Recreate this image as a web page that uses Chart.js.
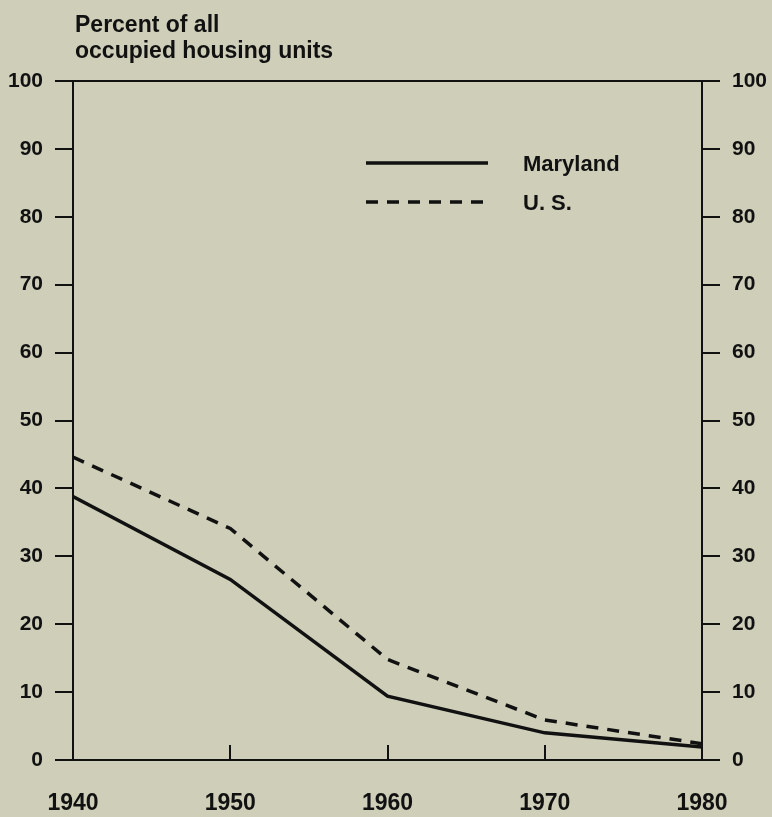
<!DOCTYPE html>
<html>
<head>
<meta charset="utf-8">
<script src="https://cdn.jsdelivr.net/npm/chart.js@4"></script>
<style>
  html, body { margin: 0; padding: 0; background: #cfceb9; }
  #wrap { width: 772px; height: 817px; position: relative; }
</style>
</head>
<body>
<div id="wrap"><canvas id="housingChart"></canvas></div>
<script>
const years = [1940, 1950, 1960, 1970, 1980];
const maryland = [38.8, 26.6, 9.4, 4.0, 1.9];
const unitedStates = [44.6, 34.1, 14.8, 5.9, 2.4];
const yTicks = [0, 10, 20, 30, 40, 50, 60, 70, 80, 90, 100];
const titleLines = ['Percent of all', 'occupied housing units'];
const seriesNames = ['Maryland', 'U. S.'];

const FONT = '"Liberation Sans", Arial, sans-serif';
const INK = '#111';

const canvas = document.getElementById('housingChart');

// title, legend and the small inward ticks on the year axis
const extras = {
  id: 'extras',
  afterDraw(chart) {
    const ctx = chart.ctx;
    const area = chart.chartArea;
    ctx.save();
    ctx.fillStyle = INK;
    ctx.strokeStyle = INK;
    ctx.font = 'bold 23px ' + FONT;
    ctx.textBaseline = 'alphabetic';
    ctx.textAlign = 'left';
    titleLines.forEach((line, i) => ctx.fillText(line, area.left + 2, 32 + i * 26));

    const xs = chart.scales.x;
    ctx.lineWidth = 2;
    years.slice(1, -1).forEach(yr => {
      const px = Math.round(xs.getPixelForValue(yr));
      ctx.beginPath();
      ctx.moveTo(px, area.bottom);
      ctx.lineTo(px, area.bottom - 15);
      ctx.stroke();
    });

    // legend
    chart.data.datasets.forEach((ds, i) => {
      const y = 163 + i * 39;
      ctx.lineWidth = ds.borderWidth;
      ctx.setLineDash(ds.borderDash || []);
      ctx.beginPath();
      ctx.moveTo(area.left + 293, y);
      ctx.lineTo(area.left + 415, y);
      ctx.stroke();
      ctx.setLineDash([]);
      ctx.font = 'bold 22px ' + FONT;
      ctx.textBaseline = 'middle';
      ctx.fillText(seriesNames[i], area.left + 450, y + 2);
    });
    ctx.restore();
  }
};

const yAxis = (pos, width) => ({
  type: 'linear',
  position: pos,
  min: 0,
  max: 100,
  afterBuildTicks: axis => { axis.ticks = yTicks.map(v => ({ value: v })); },
  afterFit: axis => { axis.width = width; },
  grid: { drawOnChartArea: false, tickLength: 18, color: INK, lineWidth: 2 },
  border: { color: INK, width: 2 },
  ticks: { color: INK, font: { family: FONT, size: 21, weight: 'bold' }, padding: 12 }
});

const chart = new Chart(canvas, {
  type: 'line',
  data: {
    datasets: [
      {
        label: seriesNames[0],
        data: years.map((yr, i) => ({ x: yr, y: maryland[i] })),
        borderColor: INK,
        borderWidth: 3.5,
        pointRadius: 0,
        tension: 0
      },
      {
        label: seriesNames[1],
        data: years.map((yr, i) => ({ x: yr, y: unitedStates[i] })),
        borderColor: INK,
        borderWidth: 3.5,
        borderDash: [12, 9],
        pointRadius: 0,
        tension: 0
      }
    ]
  },
  options: {
    responsive: true,
    maintainAspectRatio: false,
    animation: false,
    layout: { padding: { top: 81, left: 0, right: 0, bottom: 0 } },
    plugins: { legend: { display: false }, tooltip: { enabled: false } },
    scales: {
      x: {
        type: 'linear',
        min: 1940,
        max: 1980,
        afterBuildTicks: axis => { axis.ticks = years.map(v => ({ value: v })); },
        afterFit: axis => { axis.height = 57; },
        grid: { display: true, drawOnChartArea: false, drawTicks: false },
        border: { color: INK, width: 2 },
        ticks: {
          color: INK,
          font: { family: FONT, size: 23, weight: 'bold' },
          padding: 30,
          maxRotation: 0,
          callback: v => String(v)
        }
      },
      xTop: {
        type: 'linear',
        position: 'top',
        min: 1940,
        max: 1980,
        afterFit: axis => { axis.height = 0; },
        grid: { display: false },
        border: { color: INK, width: 2 },
        ticks: { display: false }
      },
      y: yAxis('left', 73),
      yRight: yAxis('right', 70)
    }
  },
  plugins: [extras]
});
</script>
</body>
</html>
